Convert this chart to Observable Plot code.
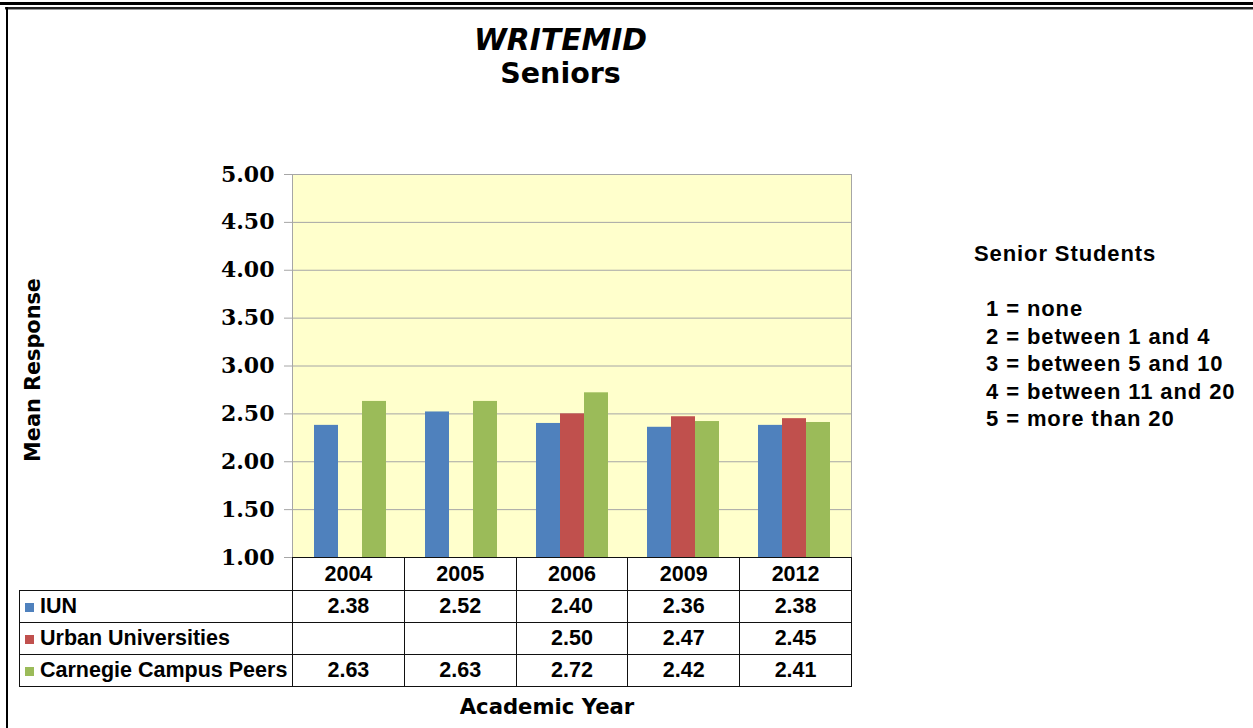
<!DOCTYPE html>
<html>
<head>
<meta charset="utf-8">
<script src="https://cdn.jsdelivr.net/npm/d3@7"></script>
<script src="https://cdn.jsdelivr.net/npm/@observablehq/plot@0.6"></script>
<style>
  html, body { margin: 0; padding: 0; background: #fff; }
  #root { position: relative; width: 1253px; height: 728px; overflow: hidden; background: #fff; }
  .abs { position: absolute; }
  .plotlayer { position: absolute; left: 0; top: 0; }
  #title { left: 0; width: 1121px; top: 23px; text-align: center; font-family: "DejaVu Sans", sans-serif; font-weight: bold; color: #000; }
  #title .t1 { font-style: italic; font-size: 29.8px; line-height: 34px; }
  #title .t2 { font-size: 28.5px; line-height: 34px; }
  #ylab { left: 33px; top: 370px; transform: translate(-50%, -50%) rotate(-90deg); white-space: nowrap; font-family: "DejaVu Sans", sans-serif; font-weight: bold; font-size: 20.8px; }
  #xlab { left: 547px; top: 706px; transform: translate(-50%, -50%); white-space: nowrap; font-family: "DejaVu Sans", sans-serif; font-weight: bold; font-size: 21.2px; }
  #legend { left: 974px; top: 240px; font-family: "Liberation Sans", Arial, sans-serif; font-weight: bold; font-size: 22px; letter-spacing: 0.9px; line-height: 27.5px; }
  #legend .ttl { margin-bottom: 27.5px; }
  #legend .ent { padding-left: 12px; white-space: nowrap; }
  table.dt { position: absolute; left: 19px; top: 557px; border-collapse: collapse; table-layout: fixed; font-family: "Liberation Sans", Arial, sans-serif; font-weight: bold; font-size: 21.5px; }
  table.dt td { border: 1.5px solid #111; text-align: center; padding: 0; white-space: nowrap; overflow: hidden; }
  table.dt td.blank { border: none; }
  table.dt td.lab { text-align: left; padding-left: 5px; }
  table.dt .sw { display: inline-block; width: 9px; height: 9px; margin-right: 6px; vertical-align: 1px; }
</style>
</head>
<body>
<div id="root">
  <div class="abs" style="left:0;top:2px;width:1253px;height:3px;background:#000"></div>
  <div class="abs" style="left:5px;top:7px;width:1248px;height:2px;background:#222"></div>
  <div class="abs" style="left:5px;top:9px;width:1248px;height:1px;background:#999"></div>
  <div class="abs" style="left:6px;top:7px;width:2px;height:721px;background:#000"></div>
  <div id="bg" class="plotlayer"></div>
  <div id="bars" class="plotlayer"></div>
  <div id="title" class="abs"><div class="t1">WRITEMID</div><div class="t2">Seniors</div></div>
  <div id="ylab" class="abs">Mean Response</div>
  <div id="xlab" class="abs">Academic Year</div>
  <div id="legend" class="abs"></div>
</div>
<script>
// ---- data ----
const years = ["2004", "2005", "2006", "2009", "2012"];
const seriesNames = ["IUN", "Urban Universities", "Carnegie Campus Peers"];
const iunValues = [2.38, 2.52, 2.40, 2.36, 2.38];
const urbanValues = [null, null, 2.50, 2.47, 2.45];
const carnegieValues = [2.63, 2.63, 2.72, 2.42, 2.41];
const seriesColors = ["#4F81BD", "#C0504D", "#9BBB59"];
const yTicks = [1.0, 1.5, 2.0, 2.5, 3.0, 3.5, 4.0, 4.5, 5.0];
const legendTitle = "Senior Students";
const legendLines = ["1 = none", "2 = between 1 and 4", "3 = between 5 and 10", "4 = between 11 and 20", "5 = more than 20"];

const seriesValues = [iunValues, urbanValues, carnegieValues];
const rows = [];
years.forEach((yr, i) => {
  seriesNames.forEach((s, j) => {
    const v = seriesValues[j][i];
    if (v != null) rows.push({year: yr, series: s, value: v});
  });
});

const W = 1253, H = 728;
const margins = {marginLeft: 292, marginRight: 402, marginTop: 174, marginBottom: 171};

// background layer: plot area, gridlines, y axis
const bg = Plot.plot({
  width: W, height: H, ...margins,
  style: {background: "transparent", overflow: "visible"},
  x: {domain: years, padding: 0, axis: null},
  y: {domain: [1, 5], axis: null},
  marks: [
    Plot.frame({fill: "#FFFFCC", stroke: "#A6A6A6", strokeWidth: 1}),
    Plot.gridY(yTicks, {stroke: "#A6A6A6", strokeOpacity: 1, strokeWidth: 1}),
    Plot.axisY(yTicks, {
      anchor: "left", tickSize: 8, tickPadding: 10, stroke: "#A6A6A6",
      tickFormat: d => d.toFixed(2), label: null,
      fontSize: 22, fontFamily: "DejaVu Serif", fontWeight: "bold", fill: "#000"
    })
  ]
});
document.getElementById("bg").appendChild(bg);

// bars layer
const bars = Plot.plot({
  width: W, height: H, ...margins,
  style: {background: "transparent", overflow: "visible"},
  fx: {domain: years, padding: 0, axis: null, label: null},
  x: {domain: seriesNames, paddingInner: 0, paddingOuter: 0.78, axis: null},
  y: {domain: [1, 5], axis: null},
  color: {domain: seriesNames, range: seriesColors},
  marks: [
    Plot.barY(rows, {fx: "year", x: "series", y1: 1, y2: "value", fill: "series"})
  ]
});
document.getElementById("bars").appendChild(bars);

// data table under the chart
const colW = (W - margins.marginLeft - margins.marginRight) / years.length;
const labW = margins.marginLeft - 19;
const table = document.createElement("table");
table.className = "dt";
table.style.width = (labW + colW * years.length) + "px";
const cg = document.createElement("colgroup");
const c0 = document.createElement("col"); c0.style.width = labW + "px"; cg.appendChild(c0);
years.forEach(() => { const c = document.createElement("col"); c.style.width = colW + "px"; cg.appendChild(c); });
table.appendChild(cg);
const hr = document.createElement("tr");
hr.style.height = "33px";
const blank = document.createElement("td"); blank.className = "blank"; hr.appendChild(blank);
years.forEach(yr => { const td = document.createElement("td"); td.textContent = yr; hr.appendChild(td); });
table.appendChild(hr);
seriesNames.forEach((s, j) => {
  const tr = document.createElement("tr");
  tr.style.height = "32px";
  const lab = document.createElement("td");
  lab.className = "lab";
  const sw = document.createElement("span"); sw.className = "sw"; sw.style.background = seriesColors[j];
  lab.appendChild(sw);
  lab.appendChild(document.createTextNode(s));
  tr.appendChild(lab);
  years.forEach((yr, i) => {
    const td = document.createElement("td");
    const v = seriesValues[j][i];
    td.textContent = v == null ? "" : v.toFixed(2);
    tr.appendChild(td);
  });
  table.appendChild(tr);
});
document.getElementById("root").appendChild(table);

// legend text
const legend = document.getElementById("legend");
const lt = document.createElement("div"); lt.className = "ttl"; lt.textContent = legendTitle; legend.appendChild(lt);
legendLines.forEach(l => { const d = document.createElement("div"); d.className = "ent"; d.textContent = l; legend.appendChild(d); });
</script>
</body>
</html>
